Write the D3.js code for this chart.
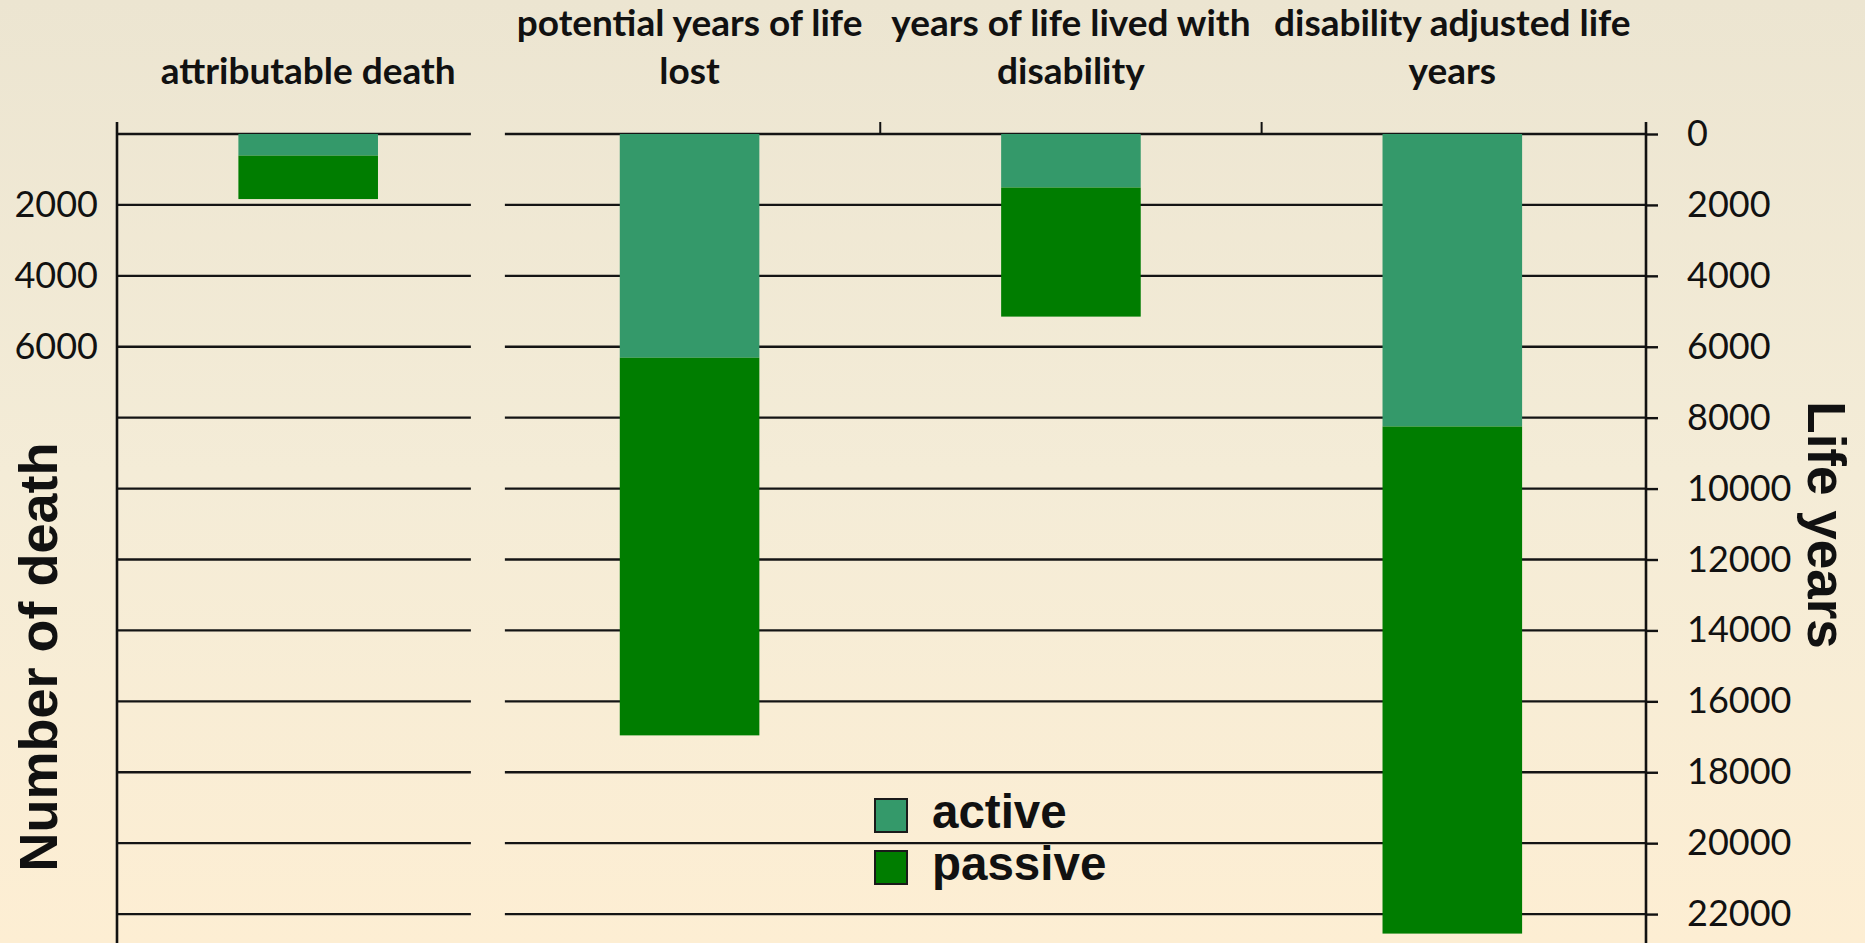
<!DOCTYPE html>
<html>
<head>
<meta charset="utf-8">
<script src="https://cdn.jsdelivr.net/npm/d3@7"></script>
<style>
  html, body { margin: 0; padding: 0; overflow: hidden; }
  svg { display: block; }
</style>
</head>
<body>
<svg id="canvas"></svg>
<script>
//--chart data
let categories = ['attributable death', 'potential years of life lost', 'years of life lived with disability', 'disability adjusted life years'];
let categoryLines = [['attributable death'], ['potential years of life', 'lost'], ['years of life lived with', 'disability'], ['disability adjusted life', 'years']];
let seriesNames = ['active', 'passive'];
let activeValues = [610, 6310, 1510, 8250];
let passiveValues = [1225, 10650, 3640, 14300];
let leftTicks = [2000, 4000, 6000];
let rightTicks = [0, 2000, 4000, 6000, 8000, 10000, 12000, 14000, 16000, 18000, 20000, 22000];
let seriesColors = ['#34996a', '#007d00'];
//--

//--canvas
let width = 1865;
let height = 943;

let canvas = d3.select('#canvas')
canvas.attr('width', width)
canvas.attr('height', height)

let defs = canvas.append('defs')
let grad = defs.append('linearGradient')
               .attr('id', 'bg')
               .attr('x1', 0).attr('y1', 0)
               .attr('x2', 0).attr('y2', 1)
grad.append('stop').attr('offset', '0%').attr('stop-color', '#ece5d1')
grad.append('stop').attr('offset', '50%').attr('stop-color', '#f4ecd7')
grad.append('stop').attr('offset', '100%').attr('stop-color', '#fdeed3')

canvas.append('rect')
      .attr('width', width)
      .attr('height', height)
      .attr('fill', 'url(#bg)')
//--

//--scales
let x = d3.scaleBand()
          .domain(categories)
          .range([117.5, 1643])
          .paddingInner(0.634)
          .paddingOuter(0.317)

let y = d3.scaleLinear()
          .domain([0, 24000])
          .range([134, 985])

let color = d3.scaleOrdinal()
              .domain(seriesNames)
              .range(seriesColors)

let axisTop = 122
let leftAxisX = 117
let rightAxisX = 1646
let leftEnd = x.range()[0] + x.step() - 28
let rightStart = x.range()[0] + x.step() + 6
//--

//--gridlines (left panel and right panel are drawn separately, with a gap)
let grid = canvas.append('g')
grid.selectAll('.grid-left')
    .data(rightTicks)
    .enter()
    .append('line')
    .attr('class', 'grid-left')
    .attr('x1', leftAxisX)
    .attr('x2', leftEnd)
    .attr('y1', d => y(d))
    .attr('y2', d => y(d))
    .attr('stroke', '#141414')
    .attr('stroke-width', 2.4)

grid.selectAll('.grid-right')
    .data(rightTicks)
    .enter()
    .append('line')
    .attr('class', 'grid-right')
    .attr('x1', rightStart)
    .attr('x2', rightAxisX)
    .attr('y1', d => y(d))
    .attr('y2', d => y(d))
    .attr('stroke', '#141414')
    .attr('stroke-width', 2.4)
//--

//--stacked bars
let rows = categories.map((c, i) => {
    return { category: c, active: activeValues[i], passive: passiveValues[i] }
})
let stacked = d3.stack().keys(seriesNames)(rows)

canvas.append('g')
      .selectAll('g')
      .data(stacked)
      .enter()
      .append('g')
      .attr('fill', d => color(d.key))
      .selectAll('rect')
      .data(d => d)
      .enter()
      .append('rect')
      .attr('x', d => x(d.data.category))
      .attr('width', x.bandwidth())
      .attr('y', d => y(d[0]))
      .attr('height', d => y(d[1]) - y(d[0]))
//--

//--axes
let rightAxis = d3.axisRight(y)
                  .tickValues(rightTicks)
                  .tickSize(12)
                  .tickPadding(29)
                  .tickFormat(d => d)

let ra = canvas.append('g')
               .attr('transform', 'translate(' + rightAxisX + ',0)')
               .call(rightAxis)
ra.select('.domain').remove()
ra.selectAll('line').attr('stroke', '#111').attr('stroke-width', 2.4)
ra.selectAll('text')
  .attr('fill', '#111')
  .style('font-family', 'Lato, "Open Sans", sans-serif')
  .style('font-size', '36px')
ra.append('line')
  .attr('x1', 0).attr('x2', 0)
  .attr('y1', axisTop).attr('y2', height)
  .attr('stroke', '#111')
  .attr('stroke-width', 2.6)

let leftAxis = d3.axisLeft(y)
                 .tickValues(leftTicks)
                 .tickSize(0)
                 .tickPadding(19)
                 .tickFormat(d => d)

let la = canvas.append('g')
               .attr('transform', 'translate(' + leftAxisX + ',0)')
               .call(leftAxis)
la.select('.domain').remove()
la.selectAll('text')
  .attr('fill', '#111')
  .style('font-family', 'Lato, "Open Sans", sans-serif')
  .style('font-size', '36px')
la.append('line')
  .attr('x1', 0).attr('x2', 0)
  .attr('y1', axisTop).attr('y2', height)
  .attr('stroke', '#111')
  .attr('stroke-width', 2.6)

// small ticks on the top axis between the right-hand categories
let boundaries = categories.slice(2).map(c => x(c) - x.step() * x.paddingInner() / 2)
canvas.selectAll('.top-tick')
      .data(boundaries)
      .enter()
      .append('line')
      .attr('class', 'top-tick')
      .attr('x1', d => d).attr('x2', d => d)
      .attr('y1', axisTop).attr('y2', y(0))
      .attr('stroke', '#111')
      .attr('stroke-width', 2)
//--

//--category labels
let labels = canvas.selectAll('.cat-label')
                   .data(categories)
                   .enter()
                   .append('text')
                   .attr('class', 'cat-label')
                   .attr('text-anchor', 'middle')
                   .attr('fill', '#111')
                   .style('font-family', 'Lato, "Open Sans", sans-serif')
                   .style('font-weight', 'bold')
                   .style('font-size', '37px')

labels.each(function (c, i) {
    let lines = categoryLines[i]
    let cx = x(c) + x.bandwidth() / 2
    d3.select(this)
      .selectAll('tspan')
      .data(lines)
      .enter()
      .append('tspan')
      .attr('x', cx)
      .attr('y', (d, j) => 84 - (lines.length - 1 - j) * 48)
      .text(d => d)
})
//--

//--axis titles
canvas.append('text')
      .attr('transform', 'translate(57,657) rotate(-90)')
      .attr('text-anchor', 'middle')
      .attr('fill', '#111')
      .style('font-family', '"Liberation Sans", Arial, sans-serif')
      .style('font-weight', 'bold')
      .style('font-size', '54px')
      .text('Number of death')

canvas.append('text')
      .attr('transform', 'translate(1808,525) rotate(90)')
      .attr('text-anchor', 'middle')
      .attr('fill', '#111')
      .style('font-family', '"Liberation Sans", Arial, sans-serif')
      .style('font-weight', 'bold')
      .style('font-size', '53px')
      .text('Life years')
//--

//--legend
let legend = canvas.append('g')
                   .attr('transform', 'translate(875,799)')

legend.selectAll('rect')
      .data(seriesNames)
      .enter()
      .append('rect')
      .attr('x', 0)
      .attr('y', (d, i) => i * 52)
      .attr('width', 32)
      .attr('height', 33)
      .attr('fill', d => color(d))
      .attr('stroke', '#1a1a1a')
      .attr('stroke-width', 2)

legend.selectAll('text')
      .data(seriesNames)
      .enter()
      .append('text')
      .attr('x', 57)
      .attr('y', (d, i) => 29 + i * 52)
      .attr('fill', '#111')
      .style('font-family', '"Liberation Sans", Arial, sans-serif')
      .style('font-weight', 'bold')
      .style('font-size', '47.5px')
      .text(d => d)
//--
</script>
</body>
</html>
